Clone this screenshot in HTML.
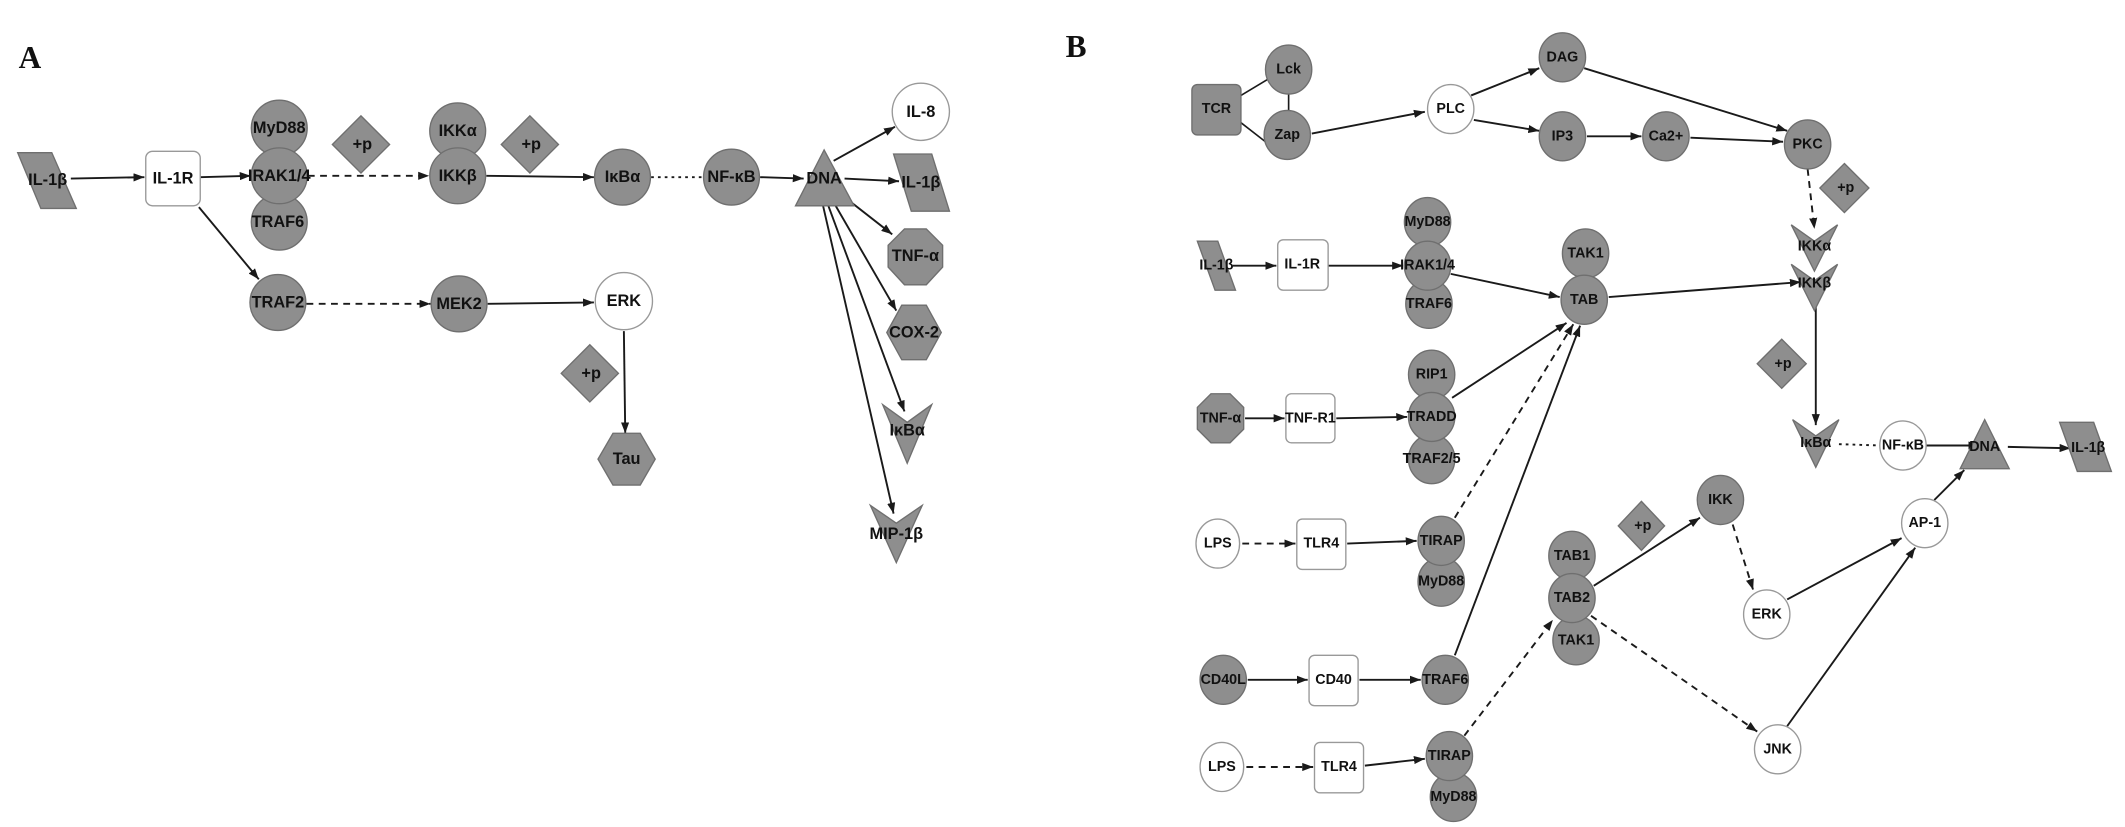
<!DOCTYPE html>
<html><head><meta charset="utf-8"><style>
html,body{margin:0;padding:0;background:#fff;}
svg{display:block;}
text{font-family:"Liberation Sans",sans-serif;font-weight:bold;fill:#111;text-anchor:middle;dominant-baseline:central;}
.g{fill:#8e8e8e;stroke:#6f6f6f;stroke-width:1;}
.w{fill:#fff;stroke:#999;stroke-width:1;}
.e{stroke:#1a1a1a;stroke-width:1.4;fill:none;marker-end:url(#ah);}
.d{stroke-dasharray:5,4;}
.o{stroke:#1a1a1a;stroke-width:1.4;fill:none;stroke-dasharray:2,3;}
.n{stroke:#1a1a1a;stroke-width:1.2;fill:none;}
.A text{font-size:12px;}
.B text{font-size:10.5px;}
</style></head><body>
<svg width="2125" height="827" viewBox="0 0 1560 607" xmlns="http://www.w3.org/2000/svg">
<defs><marker id="ah" markerWidth="8" markerHeight="6" refX="8" refY="3" orient="auto" markerUnits="userSpaceOnUse"><path d="M0,0 L8,3 L0,6 z" fill="#1a1a1a"/></marker></defs>
<text x="22" y="42" style="font-family:'Liberation Serif',serif;font-size:23px;">A</text>
<text x="790" y="34" style="font-family:'Liberation Serif',serif;font-size:23px;">B</text>

<g class="A">
<!-- edges -->
<line class="e" x1="52" y1="131" x2="106" y2="130"/>
<line class="e" x1="147" y1="130" x2="184" y2="129"/>
<line class="e d" x1="226" y1="129" x2="315" y2="129"/>
<line class="e" x1="357" y1="129" x2="436" y2="130"/>
<line class="o" x1="478" y1="130" x2="516" y2="130"/>
<line class="e" x1="558" y1="130" x2="590" y2="131"/>
<line class="e" x1="612" y1="118" x2="657" y2="93"/>
<line class="e" x1="620" y1="131" x2="660" y2="133"/>
<line class="e" x1="614" y1="140" x2="655" y2="172"/>
<line class="e" x1="610" y1="145" x2="658" y2="228"/>
<line class="e" x1="607" y1="148" x2="664" y2="302"/>
<line class="e" x1="604" y1="150" x2="656" y2="377"/>
<line class="e" x1="146" y1="152" x2="190" y2="205"/>
<line class="e d" x1="225" y1="223" x2="316" y2="223"/>
<line class="e" x1="358" y1="223" x2="436" y2="222"/>
<line class="e" x1="458" y1="243" x2="459" y2="318"/>
<!-- nodes -->
<polygon class="g" points="13,112 38,112 56,153 30,153"/><text x="35" y="132">IL-1β</text>
<rect class="w" x="107" y="111" width="40" height="40" rx="5"/><text x="127" y="131">IL-1R</text>
<ellipse class="g" cx="205" cy="94" rx="20.5" ry="20.5"/><text x="205" y="94">MyD88</text>
<ellipse class="g" cx="205" cy="163" rx="20.5" ry="20.5"/><text x="204" y="163">TRAF6</text>
<ellipse class="g" cx="205" cy="129" rx="20.5" ry="20.5"/><text x="205" y="129">IRAK1/4</text>
<polygon class="g" points="265,85 286,106 265,127 244,106"/><text x="266" y="106">+p</text>
<ellipse class="g" cx="336" cy="96" rx="20.5" ry="20.5"/><text x="336" y="96">IKKα</text>
<ellipse class="g" cx="336" cy="129" rx="20.5" ry="20.5"/><text x="336" y="129">IKKβ</text>
<polygon class="g" points="389,85 410,106 389,127 368,106"/><text x="390" y="106">+p</text>
<ellipse class="g" cx="457" cy="130" rx="20.5" ry="20.5"/><text x="457" y="130">IκBα</text>
<ellipse class="g" cx="537" cy="130" rx="20.5" ry="20.5"/><text x="537" y="130">NF-κB</text>
<polygon class="g" points="605,110 627,151 584,151"/><text x="605" y="131">DNA</text>
<circle class="w" cx="676" cy="82" r="21"/><text x="676" y="82">IL-8</text>
<polygon class="g" points="656,113 684,113 697,155 669,155"/><text x="676" y="134">IL-1β</text>
<polygon class="g" points="664,168 680,168 692,180 692,196 680,209 664,209 652,196 652,180"/><text x="672" y="188">TNF-α</text>
<polygon class="g" points="662,224 680,224 691,244 680,264 662,264 651,244"/><text x="671" y="244">COX-2</text>
<polygon class="g" points="648,297 666,310 684,297 666,340"/><text x="666" y="316">IκBα</text>
<polygon class="g" points="639,371 658,384 677,371 658,413"/><text x="658" y="392">MIP-1β</text>
<ellipse class="g" cx="204" cy="222" rx="20.5" ry="20.5"/><text x="204" y="222">TRAF2</text>
<ellipse class="g" cx="337" cy="223" rx="20.5" ry="20.5"/><text x="337" y="223">MEK2</text>
<circle class="w" cx="458" cy="221" r="21"/><text x="458" y="221">ERK</text>
<polygon class="g" points="433,253 454,274 433,295 412,274"/><text x="434" y="274">+p</text>
<polygon class="g" points="450,318 470,318 481,337 470,356 450,356 439,337"/><text x="460" y="337">Tau</text>
</g>

<g class="B">
<line class="n" x1="911" y1="70" x2="931" y2="58"/>
<line class="n" x1="911" y1="90" x2="929" y2="104"/>
<line class="n" x1="946" y1="69" x2="946" y2="81"/>
<line class="e" x1="963" y1="98" x2="1046" y2="82"/>
<line class="e" x1="1080" y1="70" x2="1130" y2="50"/>
<line class="e" x1="1082" y1="88" x2="1130" y2="96"/>
<line class="e" x1="1165" y1="100" x2="1205" y2="100"/>
<line class="e" x1="1241" y1="101" x2="1309" y2="104"/>
<line class="e" x1="1163" y1="50" x2="1312" y2="96"/>
<line class="e d" x1="1327" y1="124" x2="1332" y2="168"/>
<line class="e" x1="905" y1="195" x2="937" y2="195"/>
<line class="e" x1="975" y1="195" x2="1030" y2="195"/>
<line class="e" x1="1065" y1="201" x2="1145" y2="218"/>
<line class="e" x1="1181" y1="218" x2="1322" y2="207"/>
<line class="e" x1="1333" y1="222" x2="1333" y2="312"/>
<line class="e" x1="914" y1="307" x2="943" y2="307"/>
<line class="e" x1="981" y1="307" x2="1033" y2="306"/>
<line class="e" x1="1066" y1="292" x2="1150" y2="237"/>
<line class="e d" x1="1068" y1="380" x2="1155" y2="238"/>
<line class="e" x1="1068" y1="481" x2="1160" y2="239"/>
<line class="e d" x1="912" y1="399" x2="951" y2="399"/>
<line class="e" x1="989" y1="399" x2="1040" y2="397"/>
<line class="e" x1="916" y1="499" x2="960" y2="499"/>
<line class="e" x1="998" y1="499" x2="1043" y2="499"/>
<line class="e d" x1="915" y1="563" x2="964" y2="563"/>
<line class="e" x1="1002" y1="562" x2="1046" y2="557"/>
<line class="e d" x1="1075" y1="540" x2="1140" y2="455"/>
<line class="e" x1="1170" y1="430" x2="1248" y2="380"/>
<line class="e d" x1="1272" y1="385" x2="1287" y2="433"/>
<line class="e" x1="1312" y1="440" x2="1396" y2="395"/>
<line class="e d" x1="1168" y1="452" x2="1290" y2="537"/>
<line class="e" x1="1312" y1="533" x2="1406" y2="402"/>
<line class="e" x1="1420" y1="367" x2="1442" y2="345"/>
<line class="o" x1="1350" y1="326" x2="1381" y2="327"/>
<line class="e" x1="1414" y1="327" x2="1453" y2="327"/>
<line class="e" x1="1474" y1="328" x2="1520" y2="329"/>

<rect class="g" x="875" y="62" width="36" height="37" rx="4"/><text x="893" y="80">TCR</text>
<ellipse class="g" cx="946" cy="51" rx="17" ry="18"/><text x="946" y="51">Lck</text>
<ellipse class="g" cx="945" cy="99" rx="17" ry="18"/><text x="945" y="99">Zap</text>
<ellipse class="w" cx="1065" cy="80" rx="17" ry="18"/><text x="1065" y="80">PLC</text>
<ellipse class="g" cx="1147" cy="42" rx="17" ry="18"/><text x="1147" y="42">DAG</text>
<ellipse class="g" cx="1147" cy="100" rx="17" ry="18"/><text x="1147" y="100">IP3</text>
<ellipse class="g" cx="1223" cy="100" rx="17" ry="18"/><text x="1223" y="100">Ca2+</text>
<ellipse class="g" cx="1327" cy="106" rx="17" ry="18"/><text x="1327" y="106">PKC</text>
<polygon class="g" points="1354,120 1372,138 1354,156 1336,138"/><text x="1355" y="138">+p</text>
<polygon class="g" points="1315,165 1332,177 1349,165 1332,199"/><text x="1332" y="181">IKKα</text>
<polygon class="g" points="1315,194 1332,206 1349,194 1332,228"/><text x="1332" y="208">IKKβ</text>
<polygon class="g" points="1308,249 1326,267 1308,285 1290,267"/><text x="1309" y="267">+p</text>
<polygon class="g" points="1316,308 1333,320 1350,308 1333,343"/><text x="1333" y="325">IκBα</text>
<ellipse class="w" cx="1397" cy="327" rx="17" ry="18"/><text x="1397" y="327">NF-κB</text>
<polygon class="g" points="1457,308 1475,344 1439,344"/><text x="1457" y="328">DNA</text>
<polygon class="g" points="1512,310 1537,310 1550,346 1525,346"/><text x="1533" y="329">IL-1β</text>

<polygon class="g" points="879,177 894,177 907,213 892,213"/><text x="893" y="195">IL-1β</text>
<rect class="w" x="938" y="176" width="37" height="37" rx="4"/><text x="956" y="194">IL-1R</text>
<ellipse class="g" cx="1048" cy="163" rx="17" ry="18"/><text x="1048" y="163">MyD88</text>
<ellipse class="g" cx="1049" cy="223" rx="17" ry="18"/><text x="1049" y="223">TRAF6</text>
<ellipse class="g" cx="1048" cy="195" rx="17" ry="18"/><text x="1048" y="195">IRAK1/4</text>
<ellipse class="g" cx="1164" cy="186" rx="17" ry="18"/><text x="1164" y="186">TAK1</text>
<ellipse class="g" cx="1163" cy="220" rx="17" ry="18"/><text x="1163" y="220">TAB</text>

<polygon class="g" points="889,289 903,289 913,299 913,315 903,325 889,325 879,315 879,299"/><text x="896" y="307">TNF-α</text>
<rect class="w" x="944" y="289" width="36" height="36" rx="4"/><text x="962" y="307">TNF-R1</text>
<ellipse class="g" cx="1051" cy="275" rx="17" ry="18"/><text x="1051" y="275">RIP1</text>
<ellipse class="g" cx="1051" cy="337" rx="17" ry="18"/><text x="1051" y="337">TRAF2/5</text>
<ellipse class="g" cx="1051" cy="306" rx="17" ry="18"/><text x="1051" y="306">TRADD</text>

<ellipse class="w" cx="894" cy="399" rx="16" ry="18"/><text x="894" y="399">LPS</text>
<rect class="w" x="952" y="381" width="36" height="37" rx="4"/><text x="970" y="399">TLR4</text>
<ellipse class="g" cx="1058" cy="427" rx="17" ry="18"/><text x="1058" y="427">MyD88</text>
<ellipse class="g" cx="1058" cy="397" rx="17" ry="18"/><text x="1058" y="397">TIRAP</text>

<polygon class="g" points="1205,368 1222,386 1205,404 1188,386"/><text x="1206" y="386">+p</text>
<ellipse class="g" cx="1157" cy="470" rx="17" ry="18"/><text x="1157" y="470">TAK1</text>
<ellipse class="g" cx="1154" cy="408" rx="17" ry="18"/><text x="1154" y="408">TAB1</text>
<ellipse class="g" cx="1154" cy="439" rx="17" ry="18"/><text x="1154" y="439">TAB2</text>
<ellipse class="g" cx="1263" cy="367" rx="17" ry="18"/><text x="1263" y="367">IKK</text>
<ellipse class="w" cx="1297" cy="451" rx="17" ry="18"/><text x="1297" y="451">ERK</text>
<ellipse class="w" cx="1413" cy="384" rx="17" ry="18"/><text x="1413" y="384">AP-1</text>
<ellipse class="w" cx="1305" cy="550" rx="17" ry="18"/><text x="1305" y="550">JNK</text>

<ellipse class="g" cx="898" cy="499" rx="17" ry="18"/><text x="898" y="499">CD40L</text>
<rect class="w" x="961" y="481" width="36" height="37" rx="4"/><text x="979" y="499">CD40</text>
<ellipse class="g" cx="1061" cy="499" rx="17" ry="18"/><text x="1061" y="499">TRAF6</text>

<ellipse class="w" cx="897" cy="563" rx="16" ry="18"/><text x="897" y="563">LPS</text>
<rect class="w" x="965" y="545" width="36" height="37" rx="4"/><text x="983" y="563">TLR4</text>
<ellipse class="g" cx="1067" cy="585" rx="17" ry="18"/><text x="1067" y="585">MyD88</text>
<ellipse class="g" cx="1064" cy="555" rx="17" ry="18"/><text x="1064" y="555">TIRAP</text>
</g>
</svg>
</body></html>
